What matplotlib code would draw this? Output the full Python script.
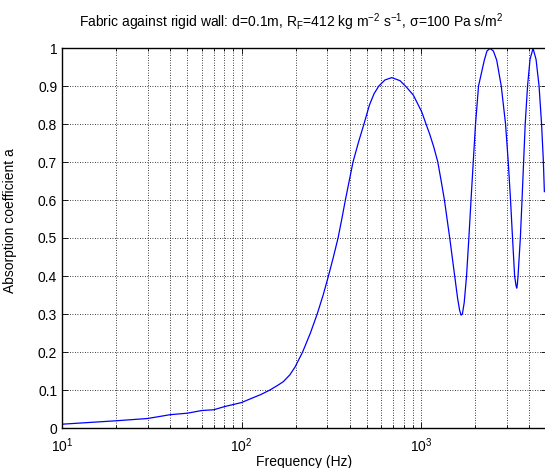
import numpy as np
import matplotlib
matplotlib.use("Agg")
import matplotlib.pyplot as plt
from matplotlib.ticker import LogLocator, MultipleLocator, FuncFormatter

plt.rcParams['font.family'] = ['Liberation Sans', 'DejaVu Sans']
plt.rcParams['mathtext.default'] = 'regular'

# Absorption curve (Hz, coefficient)
freq = [10, 20, 30, 40, 50, 60, 70, 80, 100, 111, 128, 144, 160, 171, 186,
        199, 219, 242, 264, 285, 305, 325, 345, 362, 379, 398, 418, 447, 481,
        516, 548, 582, 630, 687, 764, 830, 906, 1009, 1066, 1120, 1180, 1240,
        1295, 1350, 1445, 1540, 1600, 1640, 1672, 1700, 1740, 1793, 1847,
        1899, 1954, 2012, 2091, 2252, 2330, 2424, 2530, 2640, 2798, 2957,
        3061, 3152, 3234, 3322, 3381, 3413, 3440, 3471, 3575, 3653, 3728,
        3805, 3921, 4048, 4207, 4373, 4545, 4693, 4800, 4865]
alpha = [0.010, 0.019, 0.025, 0.035, 0.039, 0.046, 0.048, 0.056, 0.067, 0.076,
         0.088, 0.100, 0.113, 0.122, 0.140, 0.161, 0.200, 0.250, 0.300, 0.350,
         0.400, 0.450, 0.500, 0.550, 0.600, 0.650, 0.700, 0.750, 0.800, 0.850,
         0.880, 0.900, 0.916, 0.922, 0.914, 0.897, 0.876, 0.832, 0.800, 0.772,
         0.738, 0.700, 0.650, 0.600, 0.500, 0.400, 0.340, 0.310, 0.297, 0.300,
         0.330, 0.400, 0.500, 0.600, 0.700, 0.800, 0.900, 0.968, 0.992, 0.999,
         0.992, 0.968, 0.900, 0.800, 0.700, 0.600, 0.500, 0.400, 0.375, 0.368,
         0.378, 0.400, 0.500, 0.600, 0.700, 0.800, 0.900, 0.970, 0.999, 0.970,
         0.900, 0.800, 0.705, 0.622]

title_txt = ('Fabric against rigid wall: d=0.1m, R$_F$=412 kg m$^{-2}$ '
             's$^{-1}$, σ=100 Pa s/m$^2$')


def ylab(v, pos):
    if v == 0 or v == 1:
        return str(int(round(v)))
    return f'{v:.1f}'


fig = plt.figure(figsize=(5.45, 4.68), dpi=100)
ax = fig.add_axes([62 / 545, 40 / 468, 484.5 / 545, 380 / 468])

ax.semilogx(freq, alpha, color='#0000ff', lw=0.9)

ax.set_xlim(10, 5000)
ax.set_ylim(0, 1)
ax.xaxis.set_major_locator(LogLocator(base=10))
ax.xaxis.set_minor_locator(LogLocator(base=10, subs=np.arange(2, 10)))
ax.yaxis.set_major_locator(MultipleLocator(0.1))
ax.yaxis.set_major_formatter(FuncFormatter(ylab))

ax.grid(True, which='major', color='k', ls=(0, (1, 2)), lw=0.6)
ax.grid(True, which='minor', axis='x', color='k', ls=(0, (1, 2)), lw=0.6)

ax.tick_params(which='both', direction='in', top=True, right=True, labelsize=10, width=0.6)
ax.tick_params(which='major', length=4)
ax.tick_params(which='minor', length=2.5)
ax.tick_params(axis='x', which='major', pad=6)
for s in ax.spines.values():
    s.set_linewidth(1.0)

ax.set_ylabel('Absorption coefficient a', fontsize=10)
ax.yaxis.set_label_coords(-0.093, 0.547)
ax.set_xlabel('Frequency (Hz)', fontsize=10)
ax.xaxis.set_label_coords(0.5, -0.072)

ax.text(0.474, 1.055, title_txt, transform=ax.transAxes, ha='center',
        va='baseline', fontsize=10)

fig.savefig('out.png', dpi=100)
